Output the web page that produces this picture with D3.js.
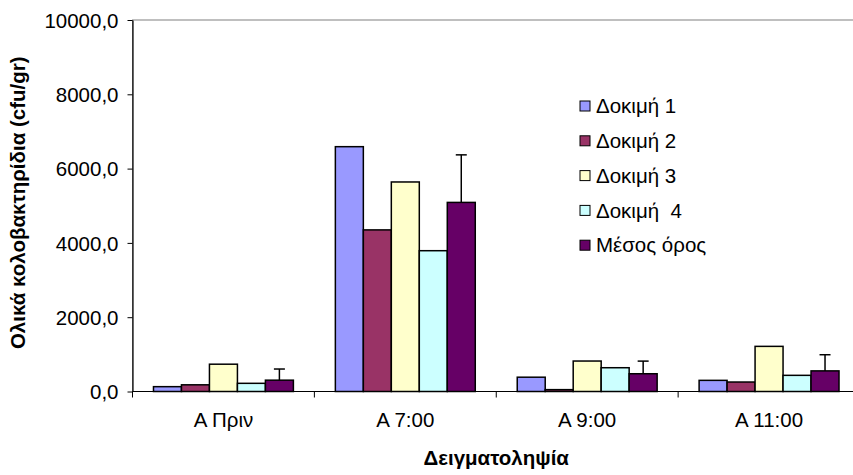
<!DOCTYPE html>
<html>
<head>
<meta charset="utf-8">
<script src="https://cdn.jsdelivr.net/npm/d3@7"></script>
<style>
  html, body { margin: 0; padding: 0; background: #fff; }
  svg { display: block; font-family: "Liberation Sans", Arial, sans-serif; }
</style>
</head>
<body>
<svg id="chart" width="853" height="475"></svg>
<script>
// ---- data ----
const categories = ["Α Πριν", "Α 7:00", "Α 9:00", "Α 11:00"];
const seriesNames = ["Δοκιμή 1", "Δοκιμή 2", "Δοκιμή 3", "Δοκιμή  4", "Μέσος όρος"];
const trial1 = [130, 6590, 385, 300];
const trial2 = [180, 4350, 50, 255];
const trial3 = [735, 5640, 820, 1215];
const trial4 = [220, 3790, 640, 435];
const meanVals = [305, 5090, 478, 555];
const meanErr = [300, 1280, 340, 435];
const yTicks = [0, 2000, 4000, 6000, 8000, 10000];
const colors = ["#9999FF", "#993366", "#FFFFCC", "#CCFFFF", "#660066"];

const seriesValues = [trial1, trial2, trial3, trial4, meanVals];

// ---- layout ----
const svg = d3.select("#chart");
const plot = { left: 132.5, right: 860, top: 20, bottom: 391.5 };
const FS = 20.5;
const TFS = 20.5;

const x = d3.scaleBand().domain(categories).range([plot.left, plot.right]).paddingInner(0).paddingOuter(0);
const xs = d3.scaleBand().domain(d3.range(seriesNames.length)).range([0, x.bandwidth()]).paddingInner(0).paddingOuter(0.75);
const y = d3.scaleLinear().domain([0, 10000]).range([plot.bottom, plot.top]);

// plot area border (gray)
svg.append("rect")
  .attr("x", plot.left).attr("y", plot.top)
  .attr("width", plot.right - plot.left).attr("height", plot.bottom - plot.top)
  .attr("fill", "none").attr("stroke", "#808080").attr("stroke-width", 1);

// bars
const groups = svg.append("g").selectAll("g")
  .data(categories).join("g")
  .attr("transform", d => `translate(${x(d)},0)`);

groups.selectAll("rect")
  .data((c, ci) => seriesValues.map((vals, si) => ({ si, v: vals[ci] })))
  .join("rect")
  .attr("x", d => xs(d.si))
  .attr("y", d => y(d.v))
  .attr("width", xs.bandwidth())
  .attr("height", d => y(0) - y(d.v))
  .attr("fill", d => colors[d.si])
  .attr("stroke", "#000").attr("stroke-width", 1.5);

// error bars on mean
const capW = 11;
groups.each(function (c, ci) {
  const g = d3.select(this);
  const cx = xs(4) + xs.bandwidth() / 2;
  const top = y(meanVals[ci] + meanErr[ci]);
  g.append("line").attr("x1", cx).attr("x2", cx)
    .attr("y1", y(meanVals[ci])).attr("y2", top)
    .attr("stroke", "#000").attr("stroke-width", 1.5);
  g.append("line").attr("x1", cx - capW / 2).attr("x2", cx + capW / 2)
    .attr("y1", top).attr("y2", top)
    .attr("stroke", "#000").attr("stroke-width", 1.5);
});

// y axis
const yAxis = d3.axisLeft(y).tickValues(yTicks).tickSize(5).tickSizeOuter(0)
  .tickFormat(d => d3.format(".1f")(d).replace(".", ","));
const yg = svg.append("g").attr("transform", `translate(${plot.left},0)`).call(yAxis);
yg.select(".domain").attr("stroke", "#000").attr("stroke-width", 1.2);
yg.selectAll(".tick line").attr("stroke", "#000");
yg.selectAll(".tick text").attr("font-size", FS).attr("font-family", "Liberation Sans, Arial, sans-serif")
  .attr("fill", "#000").attr("x", -14).attr("dy", "0.35em");

// x axis
const xg = svg.append("g").attr("transform", `translate(0,${plot.bottom})`);
xg.append("line").attr("x1", plot.left).attr("x2", plot.right).attr("y1", 0).attr("y2", 0)
  .attr("stroke", "#000").attr("stroke-width", 1.2);
xg.selectAll("line.sep")
  .data(categories.slice(1)).join("line").attr("class", "sep")
  .attr("x1", d => x(d)).attr("x2", d => x(d)).attr("y1", 0).attr("y2", 6)
  .attr("stroke", "#000");
xg.append("line").attr("x1", plot.left).attr("x2", plot.left).attr("y1", 0).attr("y2", 6).attr("stroke", "#000");
xg.selectAll("text.cat")
  .data(categories).join("text").attr("class", "cat")
  .attr("x", d => x(d) + x.bandwidth() / 2).attr("y", 35)
  .attr("text-anchor", "middle").attr("font-size", FS).attr("fill", "#000")
  .text(d => d);

// axis titles
svg.append("text")
  .attr("x", (plot.left + plot.right) / 2).attr("y", 465)
  .attr("text-anchor", "middle").attr("font-size", TFS).attr("font-weight", "bold")
  .text("Δειγματοληψία");

svg.append("text")
  .attr("transform", `translate(25,${(plot.top + plot.bottom) / 2 - 3}) rotate(-90)`)
  .attr("text-anchor", "middle").attr("font-size", TFS).attr("font-weight", "bold")
  .text("Ολικά κολοβακτηρίδια (cfu/gr)");

// legend
const legend = svg.append("g").attr("transform", "translate(580,106)");
const li = legend.selectAll("g").data(seriesNames).join("g")
  .attr("transform", (d, i) => `translate(0,${i * 34.8})`);
li.append("rect").attr("x", 0).attr("y", -5).attr("width", 10).attr("height", 10)
  .attr("fill", (d, i) => colors[i]).attr("stroke", "#000").attr("stroke-width", 1);
li.append("text").attr("x", 16).attr("y", 0).attr("dy", "0.35em")
  .attr("font-size", FS).attr("fill", "#000").style("white-space", "pre")
  .text(d => d);
</script>
</body>
</html>
